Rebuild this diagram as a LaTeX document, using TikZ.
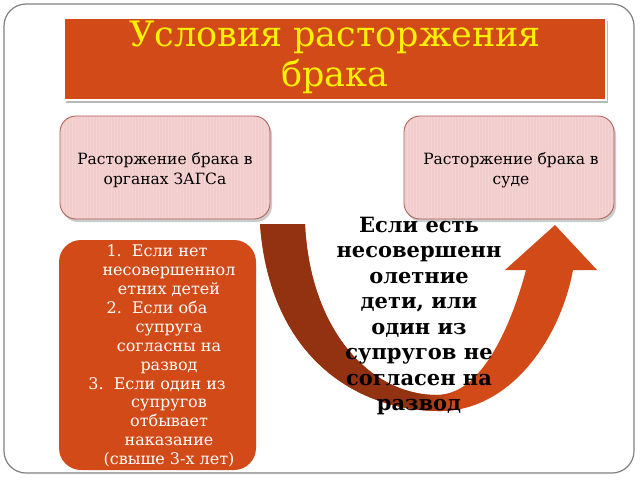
\documentclass[tikz,border=0pt]{standalone}
\usepackage{fontspec}
\setmainfont{DejaVu Serif}
\definecolor{rust}{RGB}{210,74,24}
\definecolor{darkrust}{RGB}{146,50,16}
\definecolor{rose}{RGB}{242,203,203}
\definecolor{roseline}{RGB}{175,90,80}
\newcommand\listindent{\hspace*{24pt}}

\begin{document}
\begin{tikzpicture}[x=1pt,y=-1pt,
    pinkbox/.style={draw=roseline,line width=0.8pt,rounded corners=16pt},
    pinktext/.style={align=center,font=\fontsize{15.5}{19.5}\selectfont},
    listtext/.style={align=center,text=white,font=\fontsize{16}{18.9}\selectfont}]
    \useasboundingbox (0,0) rectangle (640,480);
    \fill[white] (0,0) rectangle (640,480);
    \draw[gray,line width=1.2pt,rounded corners=22pt] (4,4) rectangle (634,473);

    % title
    \fill[gray!55] (66,21) rectangle (608,103);
    \draw[white,line width=2pt,fill=rust] (64,18) rectangle (606,100);
    \node[align=center,text=yellow,font=\fontsize{35}{40}\selectfont] (title) at (335,57)
        {Условия расторжения\\брака};

    % two ways
    \foreach \bx in {60,404}{
        \fill[gray!40,rounded corners=16pt] (\bx+2,119) rectangle (\bx+212,222);
        \fill[rose,rounded corners=16pt] (\bx,116) rectangle (\bx+210,219);
        \begin{scope}
            \clip[rounded corners=16pt] (\bx,116) rectangle (\bx+210,219);
            \foreach \s in {0,3,...,210}
                \draw[white,opacity=0.2,line width=0.8pt] (\bx+\s,116) -- (\bx+\s,219);
        \end{scope}
        \draw[pinkbox] (\bx,116) rectangle (\bx+210,219);
    }
    \node[pinktext] (zags) at (165,170) {Расторжение брака в\\органах ЗАГСа};
    \node[pinktext] (court) at (511,170) {Расторжение брака в\\суде};

    % conditions list
    \fill[rust,rounded corners=22pt] (59,240) rectangle (256,470);
    \node[listtext] (conds) at (157,356) {1.\ \ Если нет\\
        \listindent несовершеннол\\
        \listindent етних детей\\
        2.\ \ Если оба\\
        \listindent супруга\\
        \listindent согласны на\\
        \listindent развод\\
        3.\ \ Если один из\\
        \listindent супругов\\
        \listindent отбывает\\
        \listindent наказание\\
        \listindent (свыше 3-х лет)};

    % u-turn arrow
    \def\uturn{(260,224) -- (305,224)
        .. controls (310,330) and (370,395) .. (437,395)
        .. controls (480,395) and (510,330) .. (526,270)
        -- (505,270) -- (555,225) -- (597,270) -- (573,270)
        .. controls (560,340) and (510,410) .. (442,411)
        .. controls (360,412) and (270,360) .. (260,224) -- cycle}
    \fill[rust] \uturn;
    \begin{scope}
        \clip \uturn;
        \fill[darkrust] (250,215) rectangle (415,420);
        \shade[left color=darkrust,right color=rust] (415,215) rectangle (455,420);
    \end{scope}

    \node[align=center,font=\bfseries\fontsize{21}{25.5}\selectfont] (court-why) at (419,316)
        {Если есть\\несовершенн\\олетние\\дети, или\\один из\\супругов не\\согласен на\\развод};
\end{tikzpicture}
\end{document}
